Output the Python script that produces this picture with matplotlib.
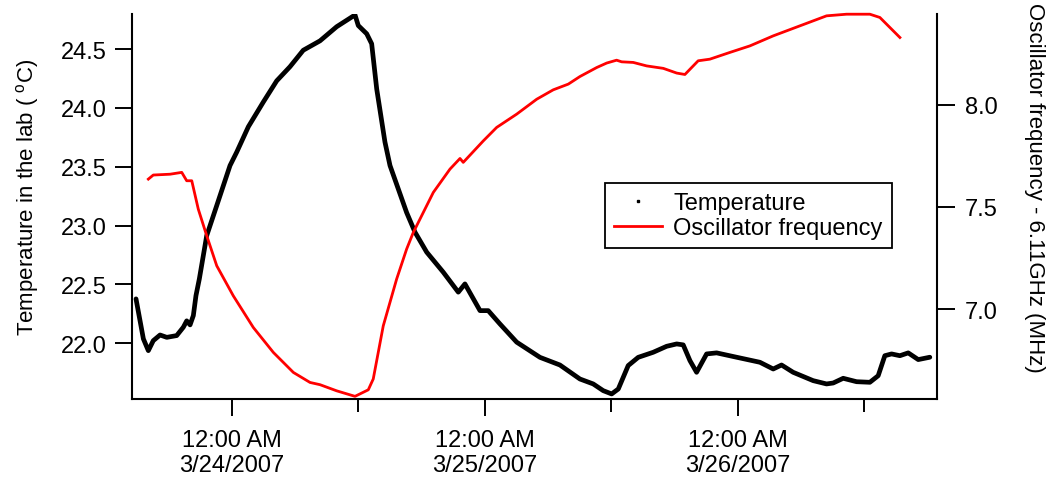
import matplotlib
matplotlib.use('Agg')
import matplotlib.pyplot as plt
from matplotlib.lines import Line2D
from matplotlib.ticker import NullLocator
import datetime as dt

plt.rcParams['font.family'] = ['Liberation Sans', 'DejaVu Sans']

start = dt.datetime(2007, 3, 24)

# hours relative to 3/24/2007 00:00
temp_hours = [-9.11, -8.41, -7.94, -7.47, -6.83, -6.19, -5.25, -4.62, -4.30, -3.98,
              -3.67, -3.42, -3.10, -2.40, -1.45, -0.19, 0.45, 1.55, 2.97, 4.24,
              5.50, 6.76, 8.35, 9.93, 11.67, 11.98, 12.78, 13.25, 13.73, 14.51,
              14.99, 15.78, 16.57, 17.36, 18.47, 20.04, 21.47, 22.10, 23.53, 24.31,
              25.42, 27.01, 29.22, 31.11, 33.01, 34.27, 35.22, 36.02, 36.65, 37.59,
              38.54, 39.96, 41.24, 42.19, 42.81, 43.45, 44.08, 45.03, 45.98, 47.87,
              50.09, 51.35, 52.14, 53.24, 55.14, 56.41, 57.04, 57.99, 59.26, 60.52,
              61.31, 61.94, 62.58, 63.37, 64.16, 65.11, 66.21]
temp_values = [22.377, 22.037, 21.937, 22.022, 22.07, 22.05, 22.065, 22.136, 22.19, 22.156,
               22.235, 22.405, 22.547, 22.915, 23.17, 23.51, 23.625, 23.84, 24.05, 24.23,
               24.35, 24.49, 24.57, 24.69, 24.79, 24.70, 24.63, 24.545, 24.16, 23.71,
               23.51, 23.31, 23.11, 22.944, 22.774, 22.604, 22.434, 22.504, 22.277, 22.277,
               22.164, 22.009, 21.88, 21.815, 21.696, 21.654, 21.597, 21.569, 21.611, 21.81,
               21.88, 21.923, 21.974, 21.994, 21.986, 21.852, 21.753, 21.909, 21.918, 21.881,
               21.838, 21.781, 21.815, 21.753, 21.682, 21.654, 21.662, 21.702, 21.673, 21.668,
               21.724, 21.894, 21.909, 21.894, 21.918, 21.861, 21.881]

freq_hours = [-7.94, -7.47, -5.88, -4.77, -4.30, -3.82, -3.20, -2.40, -1.45, 0.12,
              2.02, 3.92, 5.82, 7.40, 8.35, 9.93, 11.67, 12.93, 13.40, 14.35,
              15.62, 16.57, 17.20, 19.10, 20.68, 21.63, 21.94, 23.84, 25.11, 27.01,
              28.91, 30.48, 31.91, 33.01, 34.60, 35.55, 36.49, 36.97, 38.07, 39.34,
              40.92, 42.19, 42.97, 44.23, 45.34, 47.24, 49.14, 51.35, 53.88, 56.41,
              58.31, 60.52, 61.47, 62.42, 63.37]
freq_values = [7.636, 7.656, 7.660, 7.669, 7.628, 7.628, 7.489, 7.359, 7.212, 7.065,
               6.910, 6.788, 6.690, 6.641, 6.630, 6.600, 6.573, 6.605, 6.658, 6.918,
               7.147, 7.294, 7.375, 7.571, 7.685, 7.737, 7.718, 7.823, 7.889, 7.954,
               8.027, 8.073, 8.101, 8.138, 8.182, 8.204, 8.218, 8.210, 8.207, 8.190,
               8.178, 8.155, 8.148, 8.215, 8.223, 8.256, 8.288, 8.337, 8.386, 8.435,
               8.443, 8.443, 8.427, 8.378, 8.329]

major_tick_hours = [0, 24, 48]
minor_tick_hours = [12, 36, 60]
major_tick_labels = ['12:00 AM\n3/24/2007', '12:00 AM\n3/25/2007', '12:00 AM\n3/26/2007']
temp_ticks = [22.0, 22.5, 23.0, 23.5, 24.0, 24.5]
freq_ticks = [7.0, 7.5, 8.0]


def to_dt(hours):
    return [start + dt.timedelta(hours=h) for h in hours]


W, H = 1055, 485
fig = plt.figure(figsize=(W / 100, H / 100), dpi=100)
ax = fig.add_axes([132 / W, 1 - 400 / H, (937 - 132) / W, (400 - 15) / H])
ax2 = ax.twinx()

ax.plot(to_dt(temp_hours), temp_values, color='black', lw=3.4,
        solid_joinstyle='round', solid_capstyle='round', zorder=2)
ax2.plot(to_dt(freq_hours), freq_values, color='#ff0000', lw=2.0, clip_on=False, zorder=3)

ax.set_xlim(start + dt.timedelta(hours=-9.49), start + dt.timedelta(hours=66.89))
ax.set_ylim(21.526, 24.798)
ax2.set_ylim(6.560, 8.444)

ax.set_xticks(to_dt(major_tick_hours))
ax.set_xticklabels(major_tick_labels)
ax.set_xticks(to_dt(minor_tick_hours), minor=True)
ax.set_yticks(temp_ticks)
ax.set_yticklabels([f'{v:.1f}' for v in temp_ticks])
ax2.set_yticks(freq_ticks)
ax2.set_yticklabels([f'{v:.1f}' for v in freq_ticks])
ax.yaxis.set_minor_locator(NullLocator())
ax2.yaxis.set_minor_locator(NullLocator())

for a in (ax, ax2):
    a.spines['top'].set_visible(False)
    for s in a.spines.values():
        s.set_linewidth(1.5)
ax.spines['right'].set_visible(False)
ax2.spines['left'].set_visible(False)
ax2.spines['bottom'].set_visible(False)

ax.tick_params(axis='x', which='major', direction='out', length=12.5, width=1.4, labelsize=17, pad=9)
ax.tick_params(axis='x', which='minor', direction='out', length=9.5, width=1.4)
ax.tick_params(axis='y', direction='out', length=12.5, width=1.4, labelsize=17, pad=6)
ax2.tick_params(axis='y', direction='out', length=13, width=1.4, labelsize=17, pad=7)

ax.set_ylabel('Temperature in the lab ( $^{\\mathregular{o}}$C)', fontsize=16)
ax.yaxis.set_label_coords(-0.113, 0.526)
ax2.set_ylabel('Oscillator frequency - 6.11GHz (MHz)', fontsize=16, rotation=270)
ax2.yaxis.set_label_coords(1.134, 0.551)

handles = [Line2D([0], [0], marker='s', ms=2, ls='none', color='black'),
           Line2D([0], [0], color='#ff0000', lw=2.0)]
leg = ax2.legend(handles, ['Temperature', 'Oscillator frequency'],
                 loc='upper left', bbox_to_anchor=(605 / W, 1 - 184 / H),
                 bbox_transform=fig.transFigure, borderaxespad=0, fontsize=17,
                 fancybox=False, framealpha=1, edgecolor='black', handlelength=2.0,
                 handletextpad=0.5, labelspacing=0.1, borderpad=0.4)
leg.get_frame().set_linewidth(1.3)

fig.savefig('out.png', dpi=100)
